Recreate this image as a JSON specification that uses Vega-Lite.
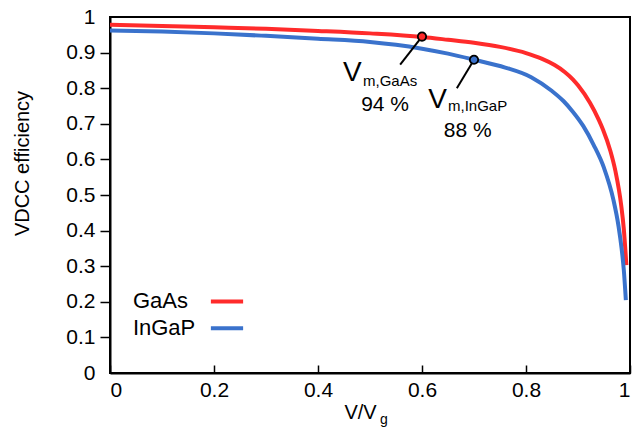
{
  "$schema": "https://vega.github.io/schema/vega-lite/v6.json",
  "width": 520,
  "height": 356,
  "autosize": {"type": "none"},
  "padding": {"left": 110, "top": 17, "right": 4, "bottom": 74},
  "background": "white",
  "config": {
    "view": {"stroke": "black", "strokeWidth": 2},
    "font": "Liberation Sans",
    "axis": {"grid": false, "domainColor": "black", "domainWidth": 2, "tickColor": "black", "tickWidth": 1.5, "labelColor": "black", "titleColor": "black", "labelFont": "Liberation Sans", "titleFont": "Liberation Sans", "labelFontSize": 21, "titleFontSize": 20, "titleFontWeight": "normal"}
  },
  "datasets": {
    "curves": [
      {"s": "GaAs", "x": 0, "y": 0.978},
      {"s": "GaAs", "x": 0.1, "y": 0.975},
      {"s": "GaAs", "x": 0.2, "y": 0.971},
      {"s": "GaAs", "x": 0.3, "y": 0.967},
      {"s": "GaAs", "x": 0.4, "y": 0.961},
      {"s": "GaAs", "x": 0.5, "y": 0.954},
      {"s": "GaAs", "x": 0.6, "y": 0.944},
      {"s": "GaAs", "x": 0.65, "y": 0.936},
      {"s": "GaAs", "x": 0.7, "y": 0.9275},
      {"s": "GaAs", "x": 0.75, "y": 0.916},
      {"s": "GaAs", "x": 0.8, "y": 0.8986},
      {"s": "GaAs", "x": 0.83, "y": 0.883},
      {"s": "GaAs", "x": 0.855, "y": 0.865},
      {"s": "GaAs", "x": 0.875, "y": 0.845},
      {"s": "GaAs", "x": 0.89, "y": 0.825},
      {"s": "GaAs", "x": 0.9, "y": 0.808},
      {"s": "GaAs", "x": 0.923, "y": 0.759},
      {"s": "GaAs", "x": 0.94, "y": 0.711},
      {"s": "GaAs", "x": 0.948, "y": 0.684},
      {"s": "GaAs", "x": 0.962, "y": 0.625},
      {"s": "GaAs", "x": 0.972, "y": 0.567},
      {"s": "GaAs", "x": 0.983, "y": 0.472},
      {"s": "GaAs", "x": 0.988, "y": 0.406},
      {"s": "GaAs", "x": 0.993, "y": 0.303},
      {"s": "InGaP", "x": 0, "y": 0.962},
      {"s": "InGaP", "x": 0.1, "y": 0.959},
      {"s": "InGaP", "x": 0.2, "y": 0.954},
      {"s": "InGaP", "x": 0.3, "y": 0.947},
      {"s": "InGaP", "x": 0.4, "y": 0.939},
      {"s": "InGaP", "x": 0.5, "y": 0.93},
      {"s": "InGaP", "x": 0.55, "y": 0.922},
      {"s": "InGaP", "x": 0.6, "y": 0.911},
      {"s": "InGaP", "x": 0.65, "y": 0.897},
      {"s": "InGaP", "x": 0.7, "y": 0.88},
      {"s": "InGaP", "x": 0.76, "y": 0.858},
      {"s": "InGaP", "x": 0.81, "y": 0.831},
      {"s": "InGaP", "x": 0.85, "y": 0.792},
      {"s": "InGaP", "x": 0.872, "y": 0.764},
      {"s": "InGaP", "x": 0.89, "y": 0.734},
      {"s": "InGaP", "x": 0.91, "y": 0.694},
      {"s": "InGaP", "x": 0.93, "y": 0.641},
      {"s": "InGaP", "x": 0.95, "y": 0.576},
      {"s": "InGaP", "x": 0.968, "y": 0.487},
      {"s": "InGaP", "x": 0.978, "y": 0.412},
      {"s": "InGaP", "x": 0.984, "y": 0.348},
      {"s": "InGaP", "x": 0.988, "y": 0.291},
      {"s": "InGaP", "x": 0.992, "y": 0.205}
    ],
    "markers": [
      {"s": "GaAs", "x": 0.6, "y": 0.945, "x2": 0.558, "y2": 0.866},
      {"s": "InGaP", "x": 0.7, "y": 0.88, "x2": 0.667, "y2": 0.8}
    ],
    "bigV": [
      {"x": 0.448, "y": 0.819, "t": "V"},
      {"x": 0.612, "y": 0.745, "t": "V"}
    ],
    "subs": [
      {"x": 0.4865, "y": 0.807, "t": "m,GaAs"},
      {"x": 0.65, "y": 0.735, "t": "m,InGaP"}
    ],
    "pct": [
      {"x": 0.529, "y": 0.735, "t": "94 %"},
      {"x": 0.688, "y": 0.663, "t": "88 %"}
    ],
    "legendText": [
      {"x": 0.044, "y": 0.183, "t": "GaAs"},
      {"x": 0.044, "y": 0.108, "t": "InGaP"}
    ],
    "legendLines": [
      {"s": "GaAs", "x": 0.194, "x2": 0.256, "y": 0.201},
      {"s": "InGaP", "x": 0.194, "x2": 0.256, "y": 0.126}
    ],
    "xsub": [
      {"x": 0.519, "y": -0.142, "t": "g"}
    ]
  },
  "encoding": {
    "x": {
      "field": "x", "type": "quantitative",
      "scale": {"domain": [0, 1], "nice": false},
      "axis": {
        "values": [0, 0.2, 0.4, 0.6, 0.8, 1],
        "format": "~g",
        "tickSize": -8,
        "labelPadding": 14,
        "title": "V/V",
        "titleX": 250,
        "titleY": 45,
        "titleAlign": "center",
        "titleBaseline": "alphabetic"
      }
    },
    "y": {
      "field": "y", "type": "quantitative",
      "scale": {"domain": [0, 1], "nice": false},
      "axis": {
        "values": [0, 0.1, 0.2, 0.3, 0.4, 0.5, 0.6, 0.7, 0.8, 0.9, 1],
        "format": "~g",
        "tickSize": 10,
        "labelPadding": 5,
        "tickColor": {"condition": {"test": "datum.value == 0 || datum.value == 1", "value": "transparent"}, "value": "black"},
        "title": "VDCC efficiency",
        "titleX": -88,
        "titleY": 146,
        "titleAngle": -90,
        "titleAlign": "center",
        "titleBaseline": "middle"
      }
    }
  },
  "layer": [
    {
      "data": {"name": "curves"},
      "mark": {"type": "line", "strokeWidth": 4, "interpolate": "monotone", "clip": false},
      "encoding": {
        "color": {"field": "s", "type": "nominal", "scale": {"domain": ["GaAs", "InGaP"], "range": ["#ff2b2b", "#3a72cc"]}, "legend": null},
        "order": {"field": "x", "type": "quantitative"}
      }
    },
    {
      "data": {"name": "markers"},
      "mark": {"type": "rule", "color": "black", "strokeWidth": 2},
      "encoding": {"x2": {"field": "x2"}, "y2": {"field": "y2"}}
    },
    {
      "data": {"name": "markers"},
      "mark": {"type": "point", "filled": true, "size": 70, "stroke": "black", "strokeWidth": 1.8, "opacity": 1},
      "encoding": {
        "fill": {"field": "s", "type": "nominal", "scale": {"domain": ["GaAs", "InGaP"], "range": ["#ff2b2b", "#3a72cc"]}, "legend": null}
      }
    },
    {
      "data": {"name": "bigV"},
      "mark": {"type": "text", "fontSize": 28, "align": "left", "baseline": "alphabetic", "color": "black", "font": "Liberation Sans"},
      "encoding": {"text": {"field": "t"}}
    },
    {
      "data": {"name": "subs"},
      "mark": {"type": "text", "fontSize": 15, "align": "left", "baseline": "alphabetic", "color": "black", "font": "Liberation Sans"},
      "encoding": {"text": {"field": "t"}}
    },
    {
      "data": {"name": "pct"},
      "mark": {"type": "text", "fontSize": 21, "align": "center", "baseline": "alphabetic", "color": "black", "font": "Liberation Sans"},
      "encoding": {"text": {"field": "t"}}
    },
    {
      "data": {"name": "legendText"},
      "mark": {"type": "text", "fontSize": 22, "align": "left", "baseline": "alphabetic", "color": "black", "font": "Liberation Sans"},
      "encoding": {"text": {"field": "t"}}
    },
    {
      "data": {"name": "legendLines"},
      "mark": {"type": "rule", "strokeWidth": 4},
      "encoding": {
        "x2": {"field": "x2"},
        "color": {"field": "s", "type": "nominal", "scale": {"domain": ["GaAs", "InGaP"], "range": ["#ff2b2b", "#3a72cc"]}, "legend": null}
      }
    },
    {
      "data": {"name": "xsub"},
      "mark": {"type": "text", "fontSize": 14, "align": "left", "baseline": "alphabetic", "color": "black", "font": "Liberation Sans"},
      "encoding": {"text": {"field": "t"}}
    }
  ]
}
